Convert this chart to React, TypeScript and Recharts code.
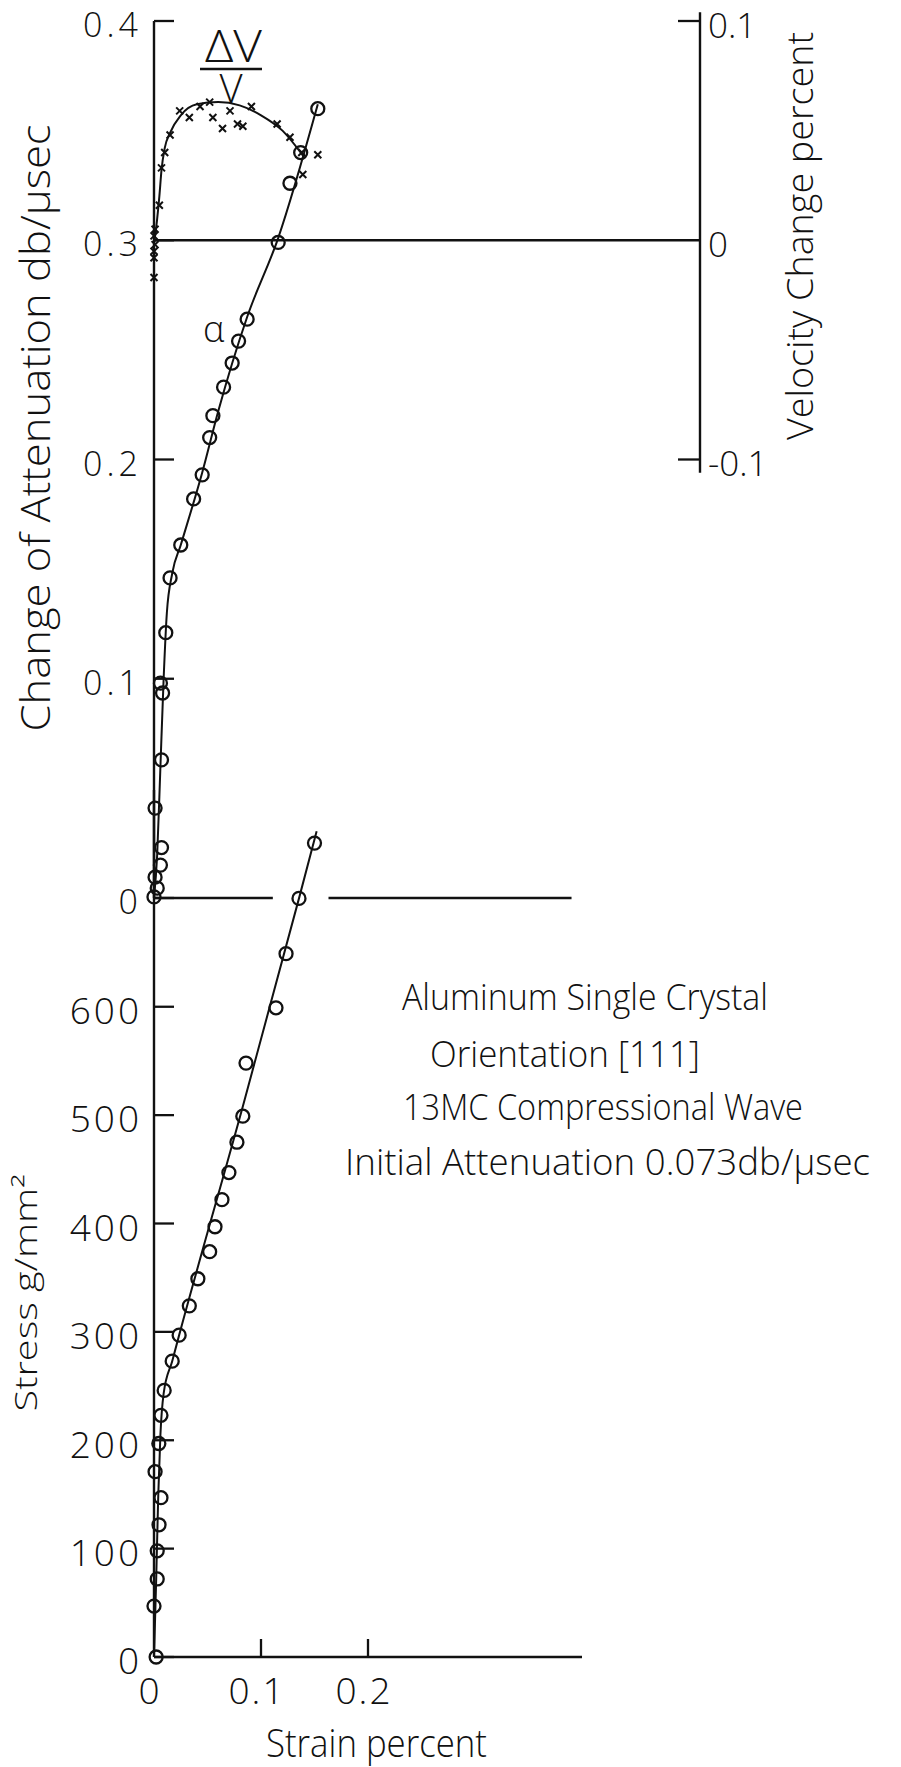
import { ScatterChart, Scatter, XAxis, YAxis, ReferenceLine } from "recharts";

const INK = "#111111";
const FONT = '"Open Sans", "DejaVu Sans", sans-serif';

// change of attenuation α (db/μsec) vs strain (%)
const alphaStrain = [0.0, 0.003, 0.001, 0.006, 0.007, 0.001, 0.007, 0.008, 0.006, 0.011, 0.015, 0.025, 0.037, 0.045, 0.052, 0.055, 0.065, 0.073, 0.079, 0.087, 0.116, 0.127, 0.137, 0.153];
const alphaDb = [0.0005, 0.0045, 0.0095, 0.015, 0.023, 0.041, 0.063, 0.0935, 0.098, 0.121, 0.146, 0.161, 0.182, 0.193, 0.21, 0.22, 0.233, 0.244, 0.254, 0.264, 0.299, 0.326, 0.34, 0.36];

// faired α curve
const alphaCurveStrain = [0, 0.003, 0.006, 0.009, 0.012, 0.017, 0.025, 0.045, 0.06, 0.087, 0.116, 0.153];
const alphaCurveDb = [0, 0.02, 0.06, 0.1, 0.13, 0.148, 0.161, 0.194, 0.222, 0.265, 0.301, 0.362];

// velocity change ΔV/V (percent) vs strain (%)
const velStrain = [0, 0, 0, 0.001, 0, 0.001, 0.005, 0.007, 0.01, 0.015, 0.024, 0.033, 0.043, 0.052, 0.055, 0.064, 0.071, 0.078, 0.083, 0.091, 0.115, 0.127, 0.138, 0.139, 0.153];
const velPct = [-0.017, -0.008, -0.005, -0.002, 0.002, 0.005, 0.016, 0.033, 0.04, 0.048, 0.059, 0.056, 0.061, 0.063, 0.056, 0.051, 0.059, 0.053, 0.052, 0.061, 0.053, 0.047, 0.04, 0.03, 0.039];

// faired ΔV/V curve
const velCurveStrain = [0, 0.003, 0.005, 0.007, 0.01, 0.015, 0.025, 0.04, 0.06, 0.08, 0.1, 0.12, 0.14];
const velCurvePct = [-0.002, 0.01, 0.02, 0.032, 0.042, 0.049, 0.057, 0.062, 0.063, 0.0615, 0.057, 0.05, 0.038];

// stress (g/mm²) vs strain (%)
const stressStrain = [0.002, 0.0, 0.003, 0.003, 0.0047, 0.0065, 0.001, 0.0045, 0.0065, 0.0095, 0.017, 0.0235, 0.033, 0.041, 0.052, 0.057, 0.0635, 0.07, 0.0775, 0.083, 0.086, 0.114, 0.1234, 0.1355, 0.15];
const stressG = [0, 47, 72, 98, 122, 147, 171, 197, 223, 246, 273, 297, 324, 349, 374, 397, 422, 447, 475, 499, 548, 599, 649, 700, 751];

// faired stress-strain curve
const stressCurveStrain = [0, 0.002, 0.004, 0.006, 0.009, 0.017, 0.0235, 0.083, 0.1355, 0.152];
const stressCurveG = [0, 70, 150, 205, 243, 273, 297, 508, 700, 762];

const ATT_TICKS = [0, 0.1, 0.2, 0.3, 0.4];
const VEL_TICKS = [-0.1, 0, 0.1];
const STRESS_TICKS = [0, 100, 200, 300, 400, 500, 600];
const STRAIN_TICKS = [0, 0.1, 0.2];

const TOP_STRAIN_MAX = 0.51;
const BOTTOM_STRAIN_MAX = 0.4;
const ZERO_LINE_GAP = [0.111, 0.163];
const ZERO_LINE_END = 0.39;
const VEL_AXIS_SPAN = [-0.106, 0.104];

const zip = (xs: number[], ys: number[]) => xs.map((x, i) => ({ x, y: ys[i] }));

const alphaPoints = zip(alphaStrain, alphaDb);
const alphaCurve = zip(alphaCurveStrain, alphaCurveDb);
const velPoints = zip(velStrain, velPct);
const velCurve = zip(velCurveStrain, velCurvePct);
const stressPoints = zip(stressStrain, stressG);
const stressCurve = zip(stressCurveStrain, stressCurveG);

const textStyle = { fontFamily: FONT, fontWeight: 300, fill: INK } as const;

function Ring(p: any) {
  return <circle cx={p.cx} cy={p.cy} r={6.5} fill="none" stroke={INK} strokeWidth={2.3} />;
}

function Cross(p: any) {
  const { cx, cy } = p;
  const s = 3.5;
  return (
    <path
      d={`M${cx - s},${cy - s}L${cx + s},${cy + s}M${cx - s},${cy + s}L${cx + s},${cy - s}`}
      stroke={INK}
      strokeWidth={2}
    />
  );
}

const NoMark = () => <g />;

function LeftTick(p: any) {
  const { x, y, payload, size, gap, spacing } = p;
  const axisX = x + gap;
  return (
    <g>
      <line x1={axisX} x2={axisX + 20} y1={y} y2={y} stroke={INK} strokeWidth={2.3} />
      <text
        x={x}
        y={y}
        dy={size * 0.36 + 4}
        textAnchor="end"
        fontSize={size}
        letterSpacing={spacing}
        {...textStyle}
      >
        {payload.value}
      </text>
    </g>
  );
}

function RightTick(p: any) {
  const { x, y, payload, size, gap } = p;
  const axisX = x - gap;
  return (
    <g>
      {payload.value !== 0 && (
        <line x1={axisX - 22} x2={axisX} y1={y} y2={y} stroke={INK} strokeWidth={2.3} />
      )}
      <text x={x} y={y} dy={size * 0.36 + 4} textAnchor="start" fontSize={size} {...textStyle}>
        {payload.value}
      </text>
    </g>
  );
}

function BottomTick(p: any) {
  const { x, y, payload, size, gap } = p;
  const axisY = y - gap;
  return (
    <g>
      {payload.value !== 0 && (
        <line x1={x} x2={x} y1={axisY} y2={axisY - 18} stroke={INK} strokeWidth={2.3} />
      )}
      <text
        x={x - 4}
        y={y}
        dy={size * 0.72}
        textAnchor="middle"
        fontSize={size}
        letterSpacing={2}
        {...textStyle}
      >
        {payload.value}
      </text>
    </g>
  );
}

function AttenuationChart() {
  return (
    <ScatterChart width={901} height={940} margin={{ top: 21, right: 0, bottom: 42, left: 0 }}>
      <XAxis type="number" dataKey="x" domain={[0, TOP_STRAIN_MAX]} hide />
      <YAxis
        yAxisId="att"
        type="number"
        dataKey="y"
        domain={[0, 0.4]}
        ticks={ATT_TICKS}
        width={154}
        tickSize={0}
        tickMargin={12}
        axisLine={{ stroke: INK, strokeWidth: 2.4 }}
        tick={(p: any) => <LeftTick {...p} size={34} gap={12} spacing={4} />}
      />
      <YAxis
        yAxisId="vel"
        orientation="right"
        type="number"
        dataKey="y"
        domain={[-0.3, 0.1]}
        ticks={VEL_TICKS}
        width={201}
        tickSize={0}
        tickMargin={8}
        axisLine={false}
        tick={(p: any) => <RightTick {...p} size={35} gap={8} />}
      />
      <ReferenceLine yAxisId="att" y={0.3} stroke={INK} strokeWidth={2.3} />
      <ReferenceLine
        yAxisId="att"
        segment={[{ x: 0, y: 0 }, { x: ZERO_LINE_GAP[0], y: 0 }]}
        stroke={INK}
        strokeWidth={2.3}
      />
      <ReferenceLine
        yAxisId="att"
        segment={[{ x: ZERO_LINE_GAP[1], y: 0 }, { x: ZERO_LINE_END, y: 0 }]}
        stroke={INK}
        strokeWidth={2.3}
      />
      <ReferenceLine
        yAxisId="vel"
        ifOverflow="visible"
        segment={[{ x: TOP_STRAIN_MAX, y: VEL_AXIS_SPAN[0] }, { x: TOP_STRAIN_MAX, y: VEL_AXIS_SPAN[1] }]}
        stroke={INK}
        strokeWidth={2.4}
      />
      <Scatter
        yAxisId="vel"
        data={velCurve}
        line={{ stroke: INK, strokeWidth: 2 }}
        lineJointType="monotoneX"
        shape={NoMark}
        isAnimationActive={false}
      />
      <Scatter yAxisId="vel" data={velPoints} shape={Cross} isAnimationActive={false} />
      <Scatter
        yAxisId="att"
        data={alphaCurve}
        line={{ stroke: INK, strokeWidth: 2 }}
        lineJointType="monotoneX"
        shape={NoMark}
        isAnimationActive={false}
      />
      <Scatter yAxisId="att" data={alphaPoints} shape={Ring} isAnimationActive={false} />
    </ScatterChart>
  );
}

function StressChart() {
  return (
    <ScatterChart width={901} height={987} margin={{ top: 10, right: 319, bottom: 0, left: 0 }}>
      <XAxis
        type="number"
        dataKey="x"
        domain={[0, BOTTOM_STRAIN_MAX]}
        ticks={STRAIN_TICKS}
        height={110}
        tickSize={0}
        tickMargin={20}
        axisLine={{ stroke: INK, strokeWidth: 2.4 }}
        tick={(p: any) => <BottomTick {...p} size={37} gap={20} />}
      />
      <YAxis
        type="number"
        dataKey="y"
        domain={[0, 800]}
        ticks={STRESS_TICKS}
        width={154}
        tickSize={0}
        tickMargin={12}
        axisLine={{ stroke: INK, strokeWidth: 2.4 }}
        tick={(p: any) => <LeftTick {...p} size={37} gap={12} spacing={3} />}
      />
      <Scatter
        data={stressCurve}
        line={{ stroke: INK, strokeWidth: 2 }}
        lineJointType="monotoneX"
        shape={NoMark}
        isAnimationActive={false}
      />
      <Scatter data={stressPoints} shape={Ring} isAnimationActive={false} />
    </ScatterChart>
  );
}

function Annotations() {
  return (
    <svg width={901} height={1767} style={{ position: "absolute", left: 0, top: 0, pointerEvents: "none" }}>
      <text transform="translate(50,428) rotate(-90)" textAnchor="middle" fontSize={40} textLength={607} lengthAdjust="spacingAndGlyphs" {...textStyle}>
        Change of Attenuation db/μsec
      </text>
      <text transform="translate(37,1293) rotate(-90)" textAnchor="middle" fontSize={31} textLength={237} lengthAdjust="spacingAndGlyphs" {...textStyle}>
        Stress g/mm²
      </text>
      <text transform="translate(813,236) rotate(-90)" textAnchor="middle" fontSize={37} textLength={408} lengthAdjust="spacingAndGlyphs" {...textStyle}>
        Velocity Change percent
      </text>
      <text x={266} y={1757} fontSize={38} textLength={221} lengthAdjust="spacingAndGlyphs" {...textStyle}>
        Strain percent
      </text>

      {/* ΔV / V fraction over the velocity curve */}
      <text {...textStyle}>
        <tspan x={205} y={62} fontSize={44} textLength={57} lengthAdjust="spacingAndGlyphs">
          ΔV
        </tspan>
        <tspan x={231} y={103} fontSize={40} textAnchor="middle">
          V
        </tspan>
      </text>
      <line x1={200} x2={262} y1={69} y2={69} stroke={INK} strokeWidth={2.5} />
      <text x={203} y={342} fontSize={36} {...textStyle}>
        α
      </text>

      <text x={402} y={1010} fontSize={37} textLength={366} lengthAdjust="spacingAndGlyphs" {...textStyle}>
        Aluminum Single Crystal
      </text>
      <text x={430} y={1067} fontSize={37} textLength={270} lengthAdjust="spacingAndGlyphs" {...textStyle}>
        Orientation [111]
      </text>
      <text x={403} y={1120} fontSize={37} textLength={400} lengthAdjust="spacingAndGlyphs" {...textStyle}>
        13MC Compressional Wave
      </text>
      <text x={345} y={1175} fontSize={37} textLength={525} lengthAdjust="spacingAndGlyphs" {...textStyle}>
        Initial Attenuation 0.073db/μsec
      </text>
    </svg>
  );
}

export default function App() {
  return (
    <div style={{ position: "absolute", left: 0, top: 0, width: 901, height: 1767, background: "#fff", overflow: "hidden" }}>
      <div style={{ position: "absolute", left: 0, top: 0 }}>
        <AttenuationChart />
      </div>
      <div style={{ position: "absolute", left: 0, top: 780 }}>
        <StressChart />
      </div>
      <Annotations />
    </div>
  );
}
